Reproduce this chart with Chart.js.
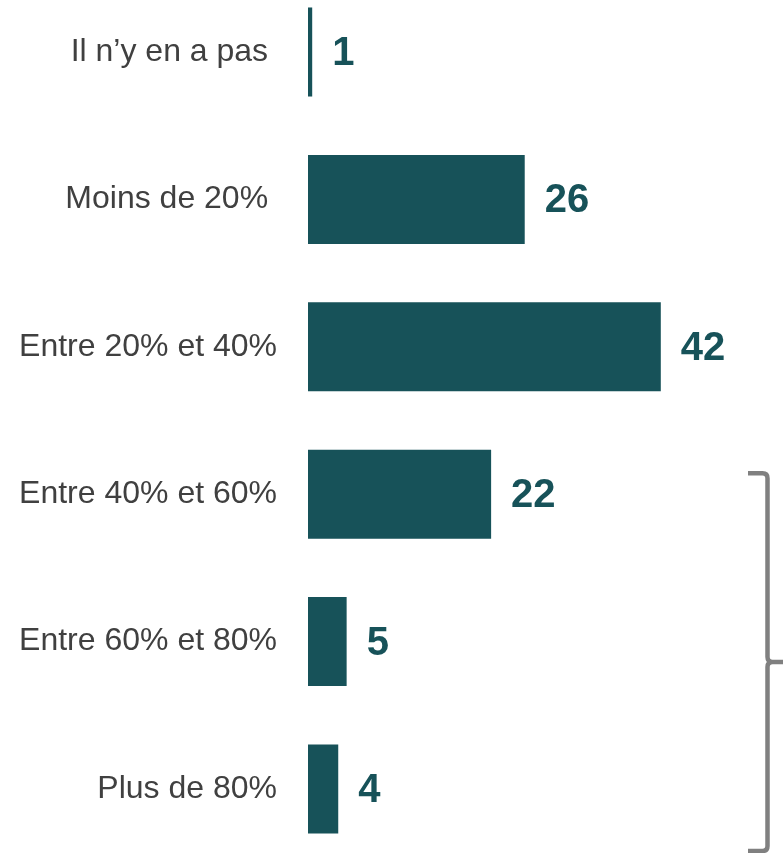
<!DOCTYPE html>
<html>
<head>
<meta charset="utf-8">
<script src="https://cdn.jsdelivr.net/npm/chart.js@4"></script>
<style>
  html, body { margin: 0; padding: 0; background: #fff; }
  #wrap { width: 783px; height: 853px; position: relative; }
</style>
</head>
<body>
<div id="wrap"><canvas id="chart"></canvas></div>
<script>
// categories (top to bottom) - the first two carry a trailing space like the original
var categories = ['Il n\u2019y en a pas ', 'Moins de 20% ', 'Entre 20% et 40%', 'Entre 40% et 60%', 'Entre 60% et 80%', 'Plus de 80%'];
// bar lengths (unrounded)
var values = [0.5, 25.8, 42, 21.8, 4.6, 3.6];
// numbers printed next to the bars
var valueLabels = ['1', '26', '42', '22', '5', '4'];

var barColor = '#175259';
var textColor = '#404040';

// numbers at the end of each bar
var valueLabelPlugin = {
    id: 'valueLabels',
    afterDatasetsDraw: function(chart) {
        var ctx = chart.ctx;
        var bars = chart.getDatasetMeta(0).data;
        ctx.save();
        ctx.font = 'bold 40px "Liberation Sans", Arial, sans-serif';
        ctx.fillStyle = barColor;
        ctx.textAlign = 'left';
        ctx.textBaseline = 'middle';
        bars.forEach(function(bar, i) {
            ctx.fillText(valueLabels[i], bar.x + 20, bar.y + 2);
        });
        ctx.restore();
    }
};

// grey curly bracket grouping the last three categories
var bracketPlugin = {
    id: 'bracket',
    afterDraw: function(chart) {
        var y = chart.scales.y;
        var top = y.getPixelForValue(3) - 21;
        var bottom = y.getPixelForValue(5) + 62;
        var mid = (top + bottom) / 2;
        var xl = 748, xv = 767.5, xr = 783, r = 5;
        var ctx = chart.ctx;
        ctx.save();
        ctx.strokeStyle = '#808080';
        ctx.lineWidth = 4.5;
        ctx.lineJoin = 'round';
        ctx.beginPath();
        ctx.moveTo(xl, top);
        ctx.lineTo(xv - r, top);
        ctx.quadraticCurveTo(xv, top, xv, top + r);
        ctx.lineTo(xv, mid - r);
        ctx.quadraticCurveTo(xv, mid, xv + r, mid);
        ctx.lineTo(xr, mid);
        ctx.moveTo(xv + r, mid);
        ctx.quadraticCurveTo(xv, mid, xv, mid + r);
        ctx.lineTo(xv, bottom - r);
        ctx.quadraticCurveTo(xv, bottom, xv - r, bottom);
        ctx.lineTo(xl, bottom);
        ctx.stroke();
        ctx.restore();
    }
};

new Chart(document.getElementById('chart'), {
    type: 'bar',
    data: {
        labels: categories,
        datasets: [{
            data: values,
            backgroundColor: barColor,
            borderWidth: 0,
            categoryPercentage: 1,
            barPercentage: 0.604,
            clip: false
        }]
    },
    options: {
        indexAxis: 'y',
        responsive: true,
        maintainAspectRatio: false,
        animation: false,
        layout: {
            padding: { top: 52, bottom: 64, left: 0, right: 55 }
        },
        plugins: {
            legend: { display: false },
            tooltip: { enabled: false }
        },
        scales: {
            x: {
                display: false,
                min: 0,
                max: 50
            },
            y: {
                offset: false,
                grid: { display: false, drawTicks: false },
                border: { display: false },
                ticks: {
                    autoSkip: false,
                    padding: 31,
                    color: textColor,
                    font: { family: '"Liberation Sans", Arial, sans-serif', size: 32 }
                },
                afterFit: function(scale) {
                    scale.width = 308;
                }
            }
        }
    },
    plugins: [valueLabelPlugin, bracketPlugin]
});
</script>
</body>
</html>
